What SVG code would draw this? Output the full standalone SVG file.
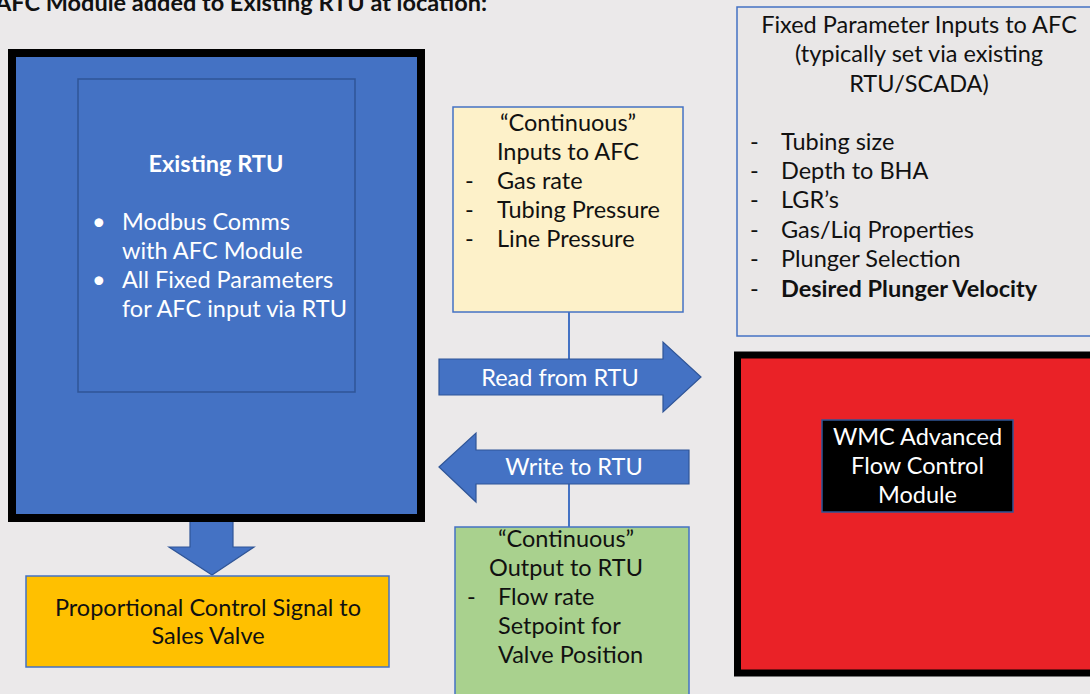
<svg xmlns="http://www.w3.org/2000/svg" width="1090" height="694" viewBox="0 0 1090 694">
<defs>
<style>
text{font-family:Lato,"Open Sans","Liberation Sans",sans-serif;font-size:23.5px}
.w{fill:#ffffff}
.k{fill:#111111}
.c{text-anchor:middle}
.b{font-weight:bold}
.arrow{fill:#4472C4;stroke:#2F5597;stroke-width:1.2}
.conn{stroke:#4472C4;stroke-width:2;fill:none}
.box{stroke:#4472C4;stroke-width:1.5}
</style>
</defs>
<rect x="0" y="0" width="1090" height="694" fill="#EBE9EA"/>
<text x="-5" y="11" class="k b" font-size="20" textLength="492" lengthAdjust="spacingAndGlyphs">AFC Module added to Existing RTU at location:</text>

<g id="connectors">
<line class="conn" x1="569" y1="312" x2="569" y2="360"/>
<line class="conn" x1="569" y1="484" x2="569" y2="527"/>
<polygon class="arrow" points="190,520 233,520 233,547 254,547 212,575 169,547 190,547"/>
</g>

<g id="rtu">
<rect x="12" y="53" width="409" height="465" fill="#4472C4" stroke="#000" stroke-width="8"/>
<rect x="78" y="79" width="277" height="313" fill="#4472C4" stroke="#2F5597" stroke-width="1.5"/>
<text x="216" y="172" class="w c b">Existing RTU</text>
<text x="92" y="230" class="w" font-size="20">•</text>
<text x="122" y="230" class="w">Modbus Comms</text>
<text x="122" y="259" class="w">with AFC Module</text>
<text x="92" y="288" class="w" font-size="20">•</text>
<text x="122" y="288" class="w">All Fixed Parameters</text>
<text x="122" y="317" class="w">for AFC input via RTU</text>
</g>

<g id="continuous-inputs">
<rect class="box" x="453" y="107" width="230" height="205" fill="#FDF1C9"/>
<text x="568" y="131" class="k c">“Continuous”</text>
<text x="568" y="160" class="k c">Inputs to AFC</text>
<text x="465" y="189" class="k">-</text>
<text x="497" y="189" class="k">Gas rate</text>
<text x="465" y="218" class="k">-</text>
<text x="497" y="218" class="k">Tubing Pressure</text>
<text x="465" y="247" class="k">-</text>
<text x="497" y="247" class="k">Line Pressure</text>
</g>

<g id="read-arrow">
<polygon class="arrow" points="439,359 663,359 663,342 701,377 663,412 663,395 439,395"/>
<text x="560" y="386" class="w c">Read from RTU</text>
</g>

<g id="write-arrow">
<polygon class="arrow" points="439,467 476,433 476,450 689,450 689,484 476,484 476,502"/>
<text x="574" y="475" class="w c">Write to RTU</text>
</g>

<g id="continuous-output">
<rect class="box" x="455" y="527" width="234" height="180" fill="#A9D18E"/>
<text x="566" y="547" class="k c">“Continuous”</text>
<text x="566" y="576" class="k c">Output to RTU</text>
<text x="467" y="605" class="k">-</text>
<text x="498" y="605" class="k">Flow rate</text>
<text x="498" y="634" class="k">Setpoint for</text>
<text x="498" y="663" class="k">Valve Position</text>
</g>

<g id="sales-valve">
<rect class="box" x="26" y="576" width="363" height="91" fill="#FFC000"/>
<text x="208" y="616" class="k c">Proportional Control Signal to</text>
<text x="208" y="644" class="k c">Sales Valve</text>
</g>

<g id="fixed-params">
<rect class="box" x="737" y="7" width="370" height="329" fill="#E9E7E7"/>
<text x="919" y="33" class="k c">Fixed Parameter Inputs to AFC</text>
<text x="919" y="62" class="k c">(typically set via existing</text>
<text x="919" y="92" class="k c">RTU/SCADA)</text>
<text x="750" y="150" class="k">-</text>
<text x="781" y="150" class="k">Tubing size</text>
<text x="750" y="179" class="k">-</text>
<text x="781" y="179" class="k">Depth to BHA</text>
<text x="750" y="208" class="k">-</text>
<text x="781" y="208" class="k">LGR’s</text>
<text x="750" y="238" class="k">-</text>
<text x="781" y="238" class="k">Gas/Liq Properties</text>
<text x="750" y="267" class="k">-</text>
<text x="781" y="267" class="k">Plunger Selection</text>
<text x="750" y="297" class="k">-</text>
<text x="781" y="297" class="k b">Desired Plunger Velocity</text>
</g>

<g id="afc-module">
<rect x="737.5" y="355" width="370" height="318" fill="#EA2227" stroke="#000" stroke-width="7"/>
<rect x="822" y="420" width="191" height="92" fill="#000" stroke="#2F5597" stroke-width="1.5"/>
<text x="917.5" y="445" class="w c">WMC Advanced</text>
<text x="917.5" y="474" class="w c">Flow Control</text>
<text x="917.5" y="503" class="w c">Module</text>
</g>
</svg>
